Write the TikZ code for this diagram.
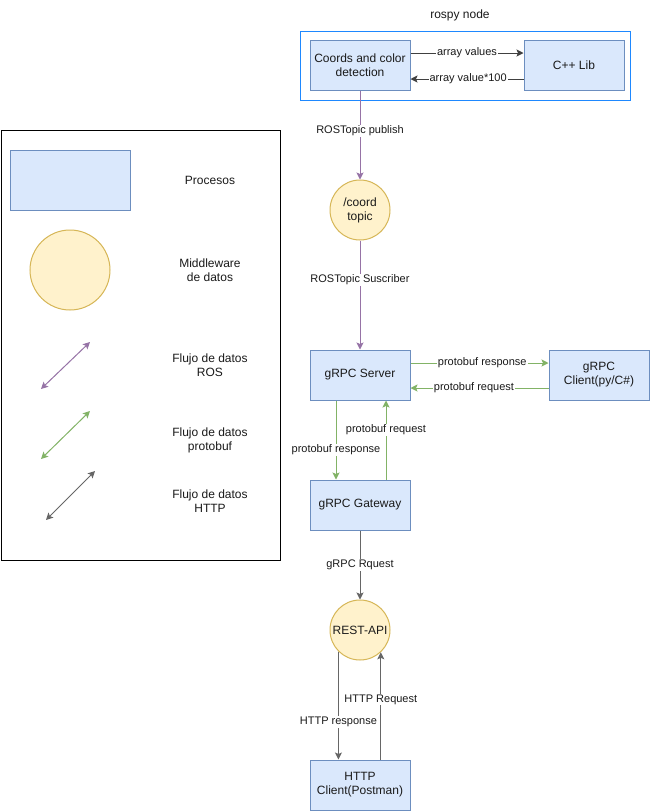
\documentclass[tikz,border=0pt]{standalone}
\usepackage{fontspec}
\setmainfont{Liberation Sans}
\usetikzlibrary{arrows.meta}
\definecolor{procfill}{HTML}{DAE8FC}
\definecolor{procdraw}{HTML}{6C8EBF}
\definecolor{midfill}{HTML}{FFF2CC}
\definecolor{middraw}{HTML}{D6B656}
\definecolor{rosline}{HTML}{9673A6}
\definecolor{pbline}{HTML}{82B366}
\definecolor{httpline}{HTML}{666666}
\definecolor{groupline}{HTML}{1E88FF}
\definecolor{txt}{HTML}{1A1A1A}
\tikzset{
  proc/.style={draw=procdraw, fill=procfill, line width=1pt, minimum width=100pt,
    minimum height=50pt, inner sep=0pt, align=center, text=txt,
    font=\fontsize{12}{14}\selectfont},
  mid/.style={draw=middraw, fill=midfill, line width=1pt, circle, minimum size=60pt,
    inner sep=0pt, align=center, text=txt, font=\fontsize{12}{14}\selectfont},
  tip/.style={-{Stealth[length=7pt,width=7pt,inset=1.5pt]}},
  bothtip/.style={{Stealth[length=7pt,width=7pt,inset=1.5pt]}-{Stealth[length=7pt,width=7pt,inset=1.5pt]}},
  flow/.style={line width=1pt, tip},
  ros/.style={flow, draw=rosline},
  pb/.style={flow, draw=pbline},
  http/.style={flow, draw=httpline},
  lib/.style={flow, draw=black!75},
  elabel/.style={fill=white, inner sep=1pt, text=txt, font=\fontsize{11}{13}\selectfont},
  legtext/.style={align=center, text=txt, font=\fontsize{12}{14}\selectfont},
}
\begin{document}
\begin{tikzpicture}[x=1pt, y=-1pt]
\useasboundingbox (0,0) rectangle (651,812);
\fill[white] (0,0) rectangle (651,812);

% rospy node group
\node[legtext] (rospylbl) at (460,15) {rospy node};
\draw[groupline, line width=1pt] (300,31) rectangle (630,100);
\node[proc] (coords) at (360,65) {Coords and color\\detection};
\node[proc] (cpp) at (574,65) {C++ Lib};
\draw[lib] ([yshift=12]coords.east) -- node[elabel, pos=.5] {array values} ([yshift=12]cpp.west);
\draw[lib] ([yshift=-14]cpp.west) -- node[elabel, pos=.49] {array value*100} ([yshift=-14]coords.east);

% ROS topic
\node[mid] (topic) at (360,210) {/coord\\topic};
\draw[ros] (coords.south) -- node[elabel, pos=.455] {ROSTopic publish} (topic.north);

% gRPC
\node[proc] (server) at (360,375) {gRPC Server};
\node[proc] (client) at (599,375) {gRPC\\Client(py/C\#)};
\node[proc] (gateway) at (360,505) {gRPC Gateway};
\draw[ros] (topic.south) -- node[elabel, pos=.36] {ROSTopic Suscriber} (server.north);
\draw[pb] ([yshift=12]server.east) -- node[elabel, pos=.52] {protobuf response} ([yshift=12]client.west);
\draw[pb] ([yshift=-13]client.west) -- node[elabel, pos=.54] {protobuf request} ([yshift=-13]server.east);
\draw[pb] ([xshift=-24]server.south) -- node[elabel, pos=.625] {protobuf response} ([xshift=-24]gateway.north);
\draw[pb] ([xshift=26]gateway.north) -- node[elabel, pos=.625] {protobuf request} ([xshift=26]server.south);

% REST / HTTP
\node[mid] (rest) at (360,630) {REST-API};
\node[proc] (hclient) at (360,785) {HTTP\\Client(Postman)};
\draw[http] (gateway.south) -- node[elabel, pos=.5] {gRPC Rquest} (rest.north);
\draw[http] (rest.-135) -- node[elabel, pos=.65] {HTTP response} (rest.-135 |- hclient.north);
\draw[http] (rest.-47 |- hclient.north) -- node[elabel, pos=.56] {HTTP Request} (rest.-47);

% legend
\draw[black, line width=1pt] (1,130) rectangle (280,560);
\node[proc, minimum width=120pt, minimum height=60pt] (legproc) at (70,180) {};
\node[legtext] (legproclbl) at (210,180) {Procesos};
\node[mid, minimum size=80pt] (legmid) at (70,270) {};
\node[legtext] (legmidlbl) at (210,270) {Middleware\\de datos};
\coordinate (rosA) at (41,389);
\coordinate (rosB) at (90,342);
\draw[rosline, line width=1pt, bothtip] (rosA) -- (rosB);
\node[legtext] (legros) at (210,365) {Flujo de datos\\ROS};
\coordinate (pbA) at (41,459);
\coordinate (pbB) at (90,411);
\draw[pbline, line width=1pt, bothtip] (pbA) -- (pbB);
\node[legtext] (legpb) at (210,440) {Flujo de datos\\protobuf};
\coordinate (httpA) at (46,520);
\coordinate (httpB) at (95,471);
\draw[httpline, line width=1pt, bothtip] (httpA) -- (httpB);
\node[legtext] (leghttp) at (210,501) {Flujo de datos\\HTTP};
\end{tikzpicture}
\end{document}
